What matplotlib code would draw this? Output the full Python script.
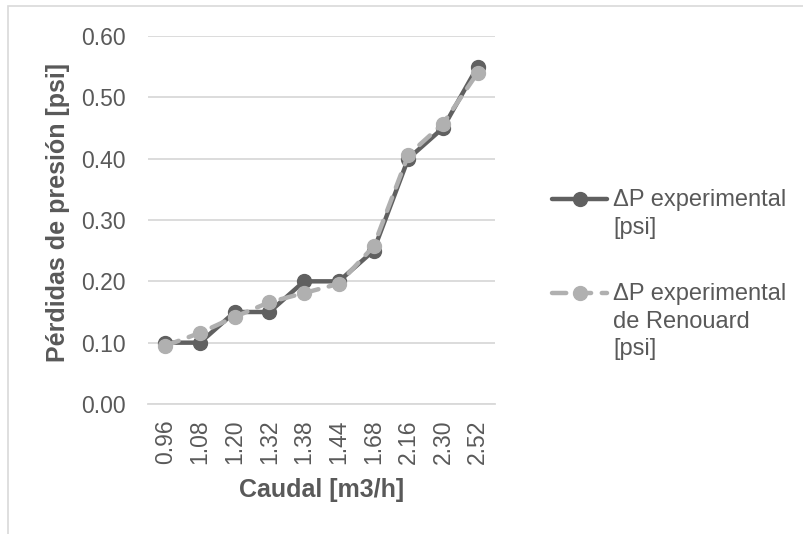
import matplotlib.pyplot as plt
from matplotlib.lines import Line2D
from matplotlib.patches import Rectangle

plt.rcParams['font.family'] = ['Liberation Sans', 'DejaVu Sans']

caudal = ["0.96", "1.08", "1.20", "1.32", "1.38", "1.44", "1.68", "2.16", "2.30", "2.52"]
dp_experimental = [0.10, 0.10, 0.15, 0.15, 0.20, 0.20, 0.25, 0.40, 0.45, 0.55]
dp_renouard = [0.095, 0.116, 0.142, 0.166, 0.181, 0.196, 0.257, 0.406, 0.457, 0.540]
labels = ["ΔP experimental\n[psi]", "ΔP experimental\nde Renouard\n[psi]"]

text_color = '#595959'
dark = '#606060'
light = '#b0b0b0'
W, H = 804, 534

fig = plt.figure(figsize=(W / 100, H / 100), dpi=100)
ax = fig.add_axes([148 / W, 1 - 404 / H, 347 / W, 368 / H])

# series styles, reused for the legend handles
style_exp = dict(color=dark, lw=3.2, marker='o', ms=10, solid_joinstyle='round',
                 solid_capstyle='round')
style_ren = dict(color=light, lw=3.2, marker='o', ms=10, dashes=(3.2, 2.4),
                 dash_capstyle='round', dash_joinstyle='round')

x = range(len(caudal))
ax.plot(x, dp_experimental, zorder=3, **style_exp)
ax.plot(x, dp_renouard, zorder=4, **style_ren)

ax.set_ylim(0, 0.6)
ax.set_xlim(-0.5, len(caudal) - 0.5)
ax.set_yticks([0, 0.1, 0.2, 0.3, 0.4, 0.5, 0.6])
ax.set_yticklabels([f"{v:.2f}" for v in ax.get_yticks()])
ax.set_xticks(list(x))
ax.set_xticklabels(caudal, rotation=90)
ax.grid(axis='y', color='#d9d9d9', lw=1.3)
ax.set_axisbelow(True)
for s in ['top', 'right', 'left']:
    ax.spines[s].set_visible(False)
ax.spines['bottom'].set_color('#d9d9d9')
ax.spines['bottom'].set_linewidth(1.3)
ax.tick_params(axis='y', length=0, labelsize=16.5, colors=text_color, pad=16)
ax.tick_params(axis='x', length=0, labelsize=16.5, colors=text_color, pad=11)

ax.set_xlabel("Caudal [m3/h]", fontsize=18, fontweight='bold', color=text_color, labelpad=10)
ax.set_ylabel("Pérdidas de presión [psi]", fontsize=18, fontweight='bold', color=text_color, labelpad=10)
ax.yaxis.set_label_coords(-0.225, 0.52)

# legend on the right, handle level with the first text line (Excel style)
for (ly, style, lab) in [(199, style_exp, labels[0]), (293, style_ren, labels[1])]:
    h = Line2D([552 / W, 607 / W], [1 - ly / H] * 2, transform=fig.transFigure,
               markevery=[], **style)
    m = Line2D([580 / W], [1 - ly / H], transform=fig.transFigure, ls='none',
               marker='o', ms=10, color=style['color'])
    fig.add_artist(h)
    fig.add_artist(m)
    fig.text(613 / W, 1 - (ly - 10) / H, lab, fontsize=17, color=text_color,
             va='top', ha='left', linespacing=1.33)

fig.patches.append(Rectangle((8 / W, -0.1), 1.2, 1.1 - 6 / H, transform=fig.transFigure,
                             fill=False, edgecolor='#d9d9d9', lw=1.2))

fig.savefig("out.png", dpi=100)
